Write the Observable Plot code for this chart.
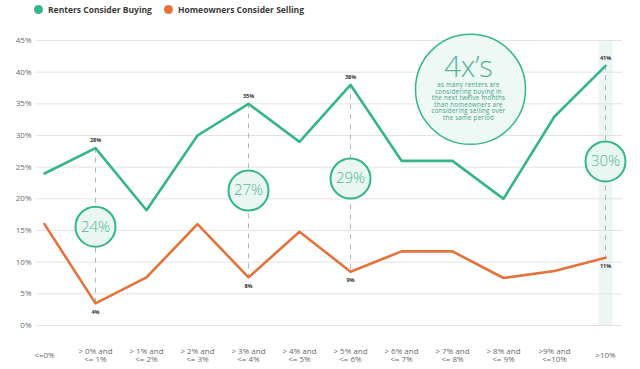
<!DOCTYPE html>
<html><head><meta charset="utf-8">
<script src="https://cdn.jsdelivr.net/npm/d3@7"></script>
<script src="https://cdn.jsdelivr.net/npm/@observablehq/plot@0.6"></script>
<style>
body{margin:0;background:#fff;font-family:"Open Sans",sans-serif;}
#legend{height:20px;position:relative;font-size:8.5px;font-weight:700;color:#3a3a3a;}
#legend span.item{position:absolute;top:4px;display:flex;align-items:center;}
#legend i{display:inline-block;width:9px;height:9px;border-radius:50%;margin-right:5px;}
.sub text{letter-spacing:0.25px;}
</style></head><body>
<div id="legend"></div>
<div id="chart"></div>
<script>
const categories = ["<=0%", "> 0% and\n<= 1%", "> 1% and\n<= 2%", "> 2% and\n<= 3%", "> 3% and\n<= 4%", "> 4% and\n<= 5%", "> 5% and\n<= 6%", "> 6% and\n<= 7%", "> 7% and\n<= 8%", "> 8% and\n<= 9%", ">9% and\n<=10%", ">10%"];
const renters = [24, 28, 18.2, 30, 35, 29, 38, 26, 26, 20, 33, 41];
const homeowners = [16, 3.5, 7.6, 16, 7.6, 14.8, 8.5, 11.7, 11.7, 7.5, 8.6, 10.7];
const seriesNames = ["Renters Consider Buying", "Homeowners Consider Selling"];
const colors = ["#35b58e", "#e4733b"];
const yTicks = [0, 5, 10, 15, 20, 25, 30, 35, 40, 45];
const calloutIdx = [1, 4, 6, 11];
const renterLabels = ["28%", "35%", "38%", "41%"];
const ownerLabels = ["4%", "8%", "9%", "11%"];
const ratioLabels = ["24%", "27%", "29%", "30%"];
const ratioY = [15.6, 21.3, 23.2, 25.9];
const bigTitle = "4x\u2019s";
const bigLines = ["as many renters are", "considering buying in", "the next twelve months", "than homeowners are", "considering selling over", "the same period"];
const bigCat = categories[8];
const bigY = 37.3;
const highlightCat = categories[11];

// legend
const lg = document.getElementById("legend");
[[34, 0], [164, 1]].forEach(([left, i]) => {
  const s = document.createElement("span");
  s.className = "item"; s.style.left = left + "px";
  s.innerHTML = `<i style="background:${colors[i]}"></i>${seriesNames[i]}`;
  lg.appendChild(s);
});

const rData = categories.map((c, i) => ({c, v: renters[i]}));
const hData = categories.map((c, i) => ({c, v: homeowners[i]}));
const callouts = calloutIdx.map((k, j) => ({c: categories[k], top: renters[k], bot: homeowners[k], rl: renterLabels[j], ol: ownerLabels[j], ratio: ratioLabels[j], ry: ratioY[j]}));
const bigLineData = bigLines.map((t, i) => ({c: bigCat, y: bigY, t, i}));

const green = colors[0], orange = colors[1];
const plot = Plot.plot({
  width: 640, height: 349,
  marginLeft: 36, marginRight: 18, marginTop: 20, marginBottom: 44,
  style: {fontFamily: "Open Sans, sans-serif", background: "#fff"},
  x: {type: "point", domain: categories, range: [42, 607], padding: 0},
  y: {domain: [0, 45]},
  marks: [
    Plot.ruleX([highlightCat], {x: d => d, y1: 0, y2: 45, stroke: "#edf5f5", strokeWidth: 14}),
    Plot.ruleY(yTicks, {stroke: "#e3e3e3", strokeWidth: 1}),
    Plot.axisY({ticks: yTicks, tickFormat: d => d + "%", tickSize: 0, tickPadding: 5, fontSize: 8, fill: "#6a6a6a", label: null}),
    Plot.axisX({tickSize: 0, tickPadding: 30, fontSize: 8, fill: "#6a6a6a", label: null, lineAnchor: "middle", lineHeight: 1.05}),
    Plot.ruleX(callouts, {x: "c", y1: "top", y2: "bot", stroke: "#b5b5b5", strokeWidth: 1, strokeDasharray: "5,5"}),
    Plot.line(rData, {x: "c", y: "v", stroke: green, strokeWidth: 2.6}),
    Plot.line(hData, {x: "c", y: "v", stroke: orange, strokeWidth: 2.6}),
    Plot.text(callouts, {x: "c", y: "top", text: "rl", dy: -8, fontSize: 5.5, fontWeight: 700, fill: "#333"}),
    Plot.text(callouts, {x: "c", y: "bot", text: "ol", dy: 9, fontSize: 5.5, fontWeight: 700, fill: "#333"}),
    Plot.dot(callouts, {x: "c", y: "ry", r: 20, fill: "#e9f6f1", stroke: green, strokeWidth: 2}),
    Plot.text(callouts, {x: "c", y: "ry", text: "ratio", fontSize: 15, fontWeight: 300, fill: "#52b797"}),
    Plot.dot([bigY], {x: () => bigCat, y: d => d, dx: 18, r: 55, fill: "#eef8f5", stroke: green, strokeWidth: 1.5}),
    Plot.text([bigTitle], {x: () => bigCat, y: () => bigY, dx: 16, dy: -22, text: d => d, fontSize: 29, fontWeight: 300, fill: "#52b797"}),
    Plot.text(bigLineData, {x: "c", y: "y", text: "t", fontSize: 6.2, fill: "#3f9e84", className: "sub",
      render: (index, scales, values, dims, ctx, next) => {
        const g = next(index, scales, values, dims, ctx);
        d3.select(g).selectAll("text").attr("transform", (_, j) => {
          const i = index[j];
          return `translate(${values.x[i] + 16},${values.y[i] - 4 + bigLineData[i].i * 6.5})`;
        });
        return g;
      }})
  ]
});
document.getElementById("chart").appendChild(plot);
</script>
</body></html>
